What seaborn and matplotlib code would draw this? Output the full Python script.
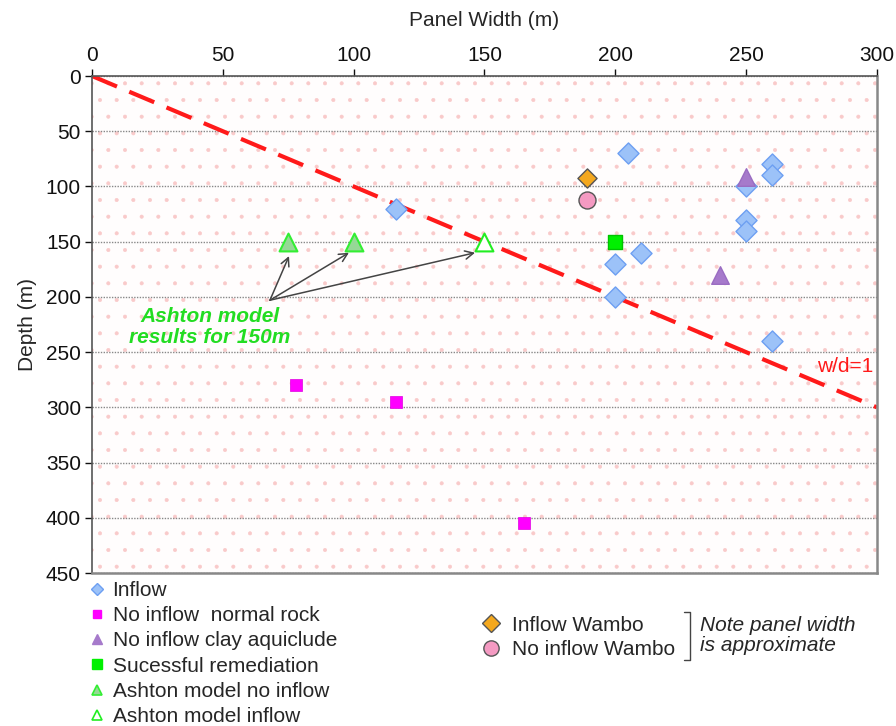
import numpy as np
import pandas as pd
import matplotlib
matplotlib.use("Agg")
import matplotlib.pyplot as plt
from matplotlib.lines import Line2D
import seaborn as sns

# ---- data (panel width m, depth m) ----
inflow_w = [205, 116, 260, 260, 250, 250, 250, 210, 200, 200, 260]
inflow_d = [70, 120, 80, 90, 100, 130, 140, 160, 170, 200, 240]

normal_rock_w = [78, 116, 165]
normal_rock_d = [280, 295, 405]

clay_w = [250, 240]
clay_d = [91, 180]

remediation_w = [200]
remediation_d = [150]

ashton_no_w = [75, 100]
ashton_no_d = [150, 150]

ashton_in_w = [150]
ashton_in_d = [150]

wambo_in_w = [189]
wambo_in_d = [92]

wambo_no_w = [189]
wambo_no_d = [112]

wd_line_w = [0, 300]
wd_line_d = [0, 300]

x_ticks = [0, 50, 100, 150, 200, 250, 300]
y_ticks = [0, 50, 100, 150, 200, 250, 300, 350, 400, 450]

FS = 15

sns.set_style("ticks")
plt.rcParams["font.family"] = ["Liberation Sans", "DejaVu Sans"]
plt.rcParams["hatch.color"] = "#f9caca"
plt.rcParams["hatch.linewidth"] = 0.45

fig = plt.figure(figsize=(8.96, 7.26), dpi=100)
ax = fig.add_axes([0.1027, 0.2107, 0.876, 0.6846])

# dotted pink paper texture
ax.patch.set_facecolor("#fffdfd")
ax.patch.set_hatch(".")
ax.patch.set_edgecolor("#f9caca")

ax.set_xlim(0, 300)
ax.set_ylim(450, 0)
ax.set_xticks(x_ticks)
ax.set_yticks(y_ticks)
ax.xaxis.tick_top()
ax.xaxis.set_label_position("top")
ax.tick_params(axis="both", labelsize=FS, colors="#111111", length=5, width=1)
ax.tick_params(axis="x", top=True, bottom=False, pad=3)
ax.tick_params(axis="y", pad=3)
for side in ["left", "top"]:
    ax.spines[side].set_color("#555555")
    ax.spines[side].set_linewidth(1.2)
for side in ["right", "bottom"]:
    ax.spines[side].set_color("#888888")
    ax.spines[side].set_linewidth(1.8)
ax.set_xlabel("Panel Width (m)", fontsize=FS, labelpad=14)
ax.set_ylabel("Depth (m)", fontsize=FS, labelpad=6)

ax.grid(axis="y", color="#888888", linestyle=(0, (1, 1)), linewidth=1.0)
ax.set_axisbelow(True)

# w/d = 1 reference line
sns.lineplot(x=wd_line_w, y=wd_line_d, ax=ax, color="#ff1a1a", linewidth=3,
             dashes=False, zorder=2, legend=False)
ax.lines[-1].set_dashes((6.5, 3.2))
ax.text(277, 263, "w/d=1", color="#ff1a1a", fontsize=FS, ha="left", va="center")

def pts(w, d):
    return pd.DataFrame({"w": w, "d": d})

sns.scatterplot(data=pts(inflow_w, inflow_d), x="w", y="d", ax=ax, marker="D",
                s=115, color="#9cc2f8", edgecolor="#6d9ff2", linewidth=1, zorder=3)
sns.scatterplot(data=pts(normal_rock_w, normal_rock_d), x="w", y="d", ax=ax, marker="s",
                s=64, color="#ff00ff", edgecolor="#e000e0", linewidth=0.5, zorder=3)
sns.scatterplot(data=pts(clay_w, clay_d), x="w", y="d", ax=ax, marker="^",
                s=160, color="#a67acb", edgecolor="#9a6cc2", linewidth=1, zorder=4)
sns.scatterplot(data=pts(remediation_w, remediation_d), x="w", y="d", ax=ax, marker="s",
                s=100, color="#00f000", edgecolor="#00c400", linewidth=1, zorder=3)
sns.scatterplot(data=pts(ashton_no_w, ashton_no_d), x="w", y="d", ax=ax, marker="^",
                s=165, color="#96d896", edgecolor="#33ee33", linewidth=1.5, zorder=3)
sns.scatterplot(data=pts(ashton_in_w, ashton_in_d), x="w", y="d", ax=ax, marker="^",
                s=165, color="white", edgecolor="#22ee22", linewidth=1.5, zorder=3)
sns.scatterplot(data=pts(wambo_in_w, wambo_in_d), x="w", y="d", ax=ax, marker="D",
                s=95, color="#f4a81e", edgecolor="#555555", linewidth=1, zorder=3)
sns.scatterplot(data=pts(wambo_no_w, wambo_no_d), x="w", y="d", ax=ax, marker="o",
                s=150, color="#f49ac2", edgecolor="#555555", linewidth=1, zorder=3)

# Ashton model callout
ax.text(45, 227, "Ashton model\nresults for 150m", color="#22dd22", fontsize=FS,
        fontweight="bold", fontstyle="italic", ha="center", va="center",
        linespacing=1.12, zorder=5)
for tx, ty in [(75.3, 163), (98.2, 160), (146.4, 160)]:
    ax.annotate("", xy=(tx, ty), xytext=(68, 203),
                arrowprops=dict(arrowstyle="->,head_length=0.6,head_width=0.3",
                                color="#444444", lw=1.1, shrinkA=0, shrinkB=0),
                zorder=5)

# legends below the plot
def handle(marker, face, edge, size, ew=1):
    return Line2D([], [], linestyle="none", marker=marker, markersize=size,
                  markerfacecolor=face, markeredgecolor=edge, markeredgewidth=ew)

left_handles = [
    handle("D", "#9cc2f8", "#6d9ff2", 6),
    handle("s", "#ff00ff", "#ff00ff", 6),
    handle("^", "#a67acb", "#a67acb", 7),
    handle("s", "#00f000", "#00f000", 7),
    handle("^", "#96d896", "#33ee33", 7, 1.2),
    handle("^", "white", "#22ee22", 7, 1.2),
]
left_labels = ["Inflow", "No inflow  normal rock", "No inflow clay aquiclude",
               "Sucessful remediation", "Ashton model no inflow", "Ashton model inflow"]
leg1 = fig.legend(left_handles, left_labels, loc="upper left",
                  bbox_to_anchor=(0.100, 0.200), frameon=False, fontsize=FS,
                  handlelength=0.7, handletextpad=0.4, labelspacing=0.3,
                  borderaxespad=0, borderpad=0)

right_handles = [
    handle("D", "#f4a81e", "#555555", 9),
    handle("o", "#f49ac2", "#555555", 11),
]
right_labels = ["Inflow Wambo", "No inflow Wambo"]
leg2 = fig.legend(right_handles, right_labels, loc="upper left",
                  bbox_to_anchor=(0.538, 0.152), frameon=False, fontsize=FS,
                  handlelength=0.9, handletextpad=0.55, labelspacing=0.25,
                  borderaxespad=0, borderpad=0)

# bracket and note
bx, by0, by1 = 0.763, 0.157, 0.091
fig.add_artist(Line2D([bx, bx + 0.007, bx + 0.007, bx], [by0, by0, by1, by1],
                      color="#444444", lw=1, transform=fig.transFigure))
fig.text(0.781, 0.125, "Note panel width\nis approximate", fontsize=FS,
         fontstyle="italic", ha="left", va="center", linespacing=1.05)

fig.savefig("out.png", dpi=100)
